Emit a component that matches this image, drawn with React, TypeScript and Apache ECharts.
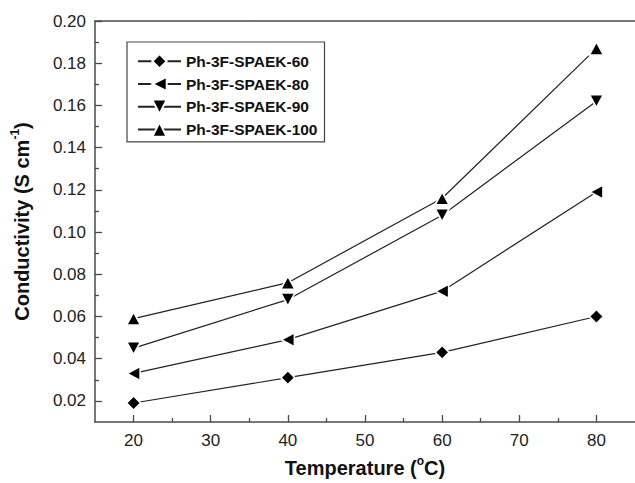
import React, { useEffect, useRef } from "react";
import * as echarts from "echarts";

const temps = [20, 40, 60, 80];
const s60 = [0.019, 0.031, 0.043, 0.06];
const s80 = [0.033, 0.049, 0.072, 0.119];
const s90 = [0.045, 0.068, 0.108, 0.162];
const s100 = [0.059, 0.076, 0.116, 0.187];
const seriesNames = ["Ph-3F-SPAEK-60", "Ph-3F-SPAEK-80", "Ph-3F-SPAEK-90", "Ph-3F-SPAEK-100"];

const xMajorTicks = [20, 30, 40, 50, 60, 70, 80];
const xMinorTicks = [25, 35, 45, 55, 65, 75];
const yMajorTicks = [0.02, 0.04, 0.06, 0.08, 0.1, 0.12, 0.14, 0.16, 0.18, 0.2];
const yMinorTicks = [0.03, 0.05, 0.07, 0.09, 0.11, 0.13, 0.15, 0.17, 0.19];

const FONT = "'Liberation Sans', Arial, Helvetica, sans-serif";
const AXIS_COLOR = "#4a4a4a";

export default function App() {
  const ref = useRef<HTMLDivElement>(null);
  useEffect(() => {
    if (!ref.current) return;
    const chart = echarts.init(ref.current, null, { renderer: "svg" });
    const pairs = (ys: number[]) => temps.map((t, i) => [t, ys[i]]);
    const mk = (name: string, ys: number[], symbol: string, size: any, rotate: number) => ({
      name,
      type: "line",
      data: pairs(ys),
      symbol,
      symbolSize: size,
      symbolRotate: rotate,
      showAllSymbol: true,
      lineStyle: { color: "#222", width: 1.2 },
      itemStyle: { color: "#000", borderColor: "#fff", borderWidth: 1.6 },
      z: 3,
    });
    const xBase = { type: "value", min: 15, max: 85, interval: 5, gridIndex: 0 };
    const yBase = { type: "value", min: 0.01, max: 0.2, interval: 0.01, gridIndex: 0 };
    const supStyle = { fontFamily: FONT, fontSize: 12, fontWeight: "bold", verticalAlign: "top", lineHeight: 12, color: "#111" };
    const mainStyle = { fontFamily: FONT, fontWeight: "bold", fontSize: 20, lineHeight: 26, color: "#111" };
    chart.setOption({
      animation: false,
      backgroundColor: "#fff",
      textStyle: { fontFamily: FONT },
      grid: { left: 95, top: 21, width: 543, height: 403 },
      legend: {
        orient: "vertical",
        left: 127,
        top: 42,
        data: seriesNames,
        itemWidth: 43,
        itemHeight: 18,
        itemGap: 6.4,
        padding: [11, 7, 4, 10],
        borderColor: "#444",
        borderWidth: 1.2,
        textStyle: { fontFamily: FONT, fontWeight: "bold", fontSize: 15.5, color: "#111" },
      },
      xAxis: [
        {
          ...xBase,
          position: "bottom",
          name: "{m|Temperature (}{sup|o}{m|C)}",
          nameLocation: "middle",
          nameGap: 33,
          nameTextStyle: {
            fontFamily: FONT,
            fontWeight: "bold",
            fontSize: 20,
            color: "#111",
            rich: { m: mainStyle, sup: supStyle },
          },
          axisLine: { show: true, lineStyle: { color: AXIS_COLOR, width: 1.5 } },
          axisTick: { show: true, inside: true, length: 7, customValues: xMajorTicks, lineStyle: { color: AXIS_COLOR, width: 1.3 } },
          axisLabel: { show: true, customValues: xMajorTicks, fontSize: 17, color: "#222", margin: 10, fontFamily: FONT },
          splitLine: { show: false },
        },
        {
          ...xBase,
          position: "bottom",
          axisLine: { show: false },
          axisTick: { show: true, inside: true, length: 4, customValues: xMinorTicks, lineStyle: { color: AXIS_COLOR, width: 1.3 } },
          axisLabel: { show: false },
          splitLine: { show: false },
        },
        {
          ...xBase,
          position: "top",
          axisLine: { show: true, lineStyle: { color: AXIS_COLOR, width: 1.5 } },
          axisTick: { show: false },
          axisLabel: { show: false },
          splitLine: { show: false },
        },
      ],
      yAxis: [
        {
          ...yBase,
          position: "left",
          name: "{m|Conductivity (S cm}{sup|-1}{m|)}",
          nameLocation: "middle",
          nameRotate: 90,
          nameGap: 60,
          nameTextStyle: {
            fontFamily: FONT,
            fontWeight: "bold",
            fontSize: 20,
            color: "#111",
            rich: { m: mainStyle, sup: supStyle },
          },
          axisLine: { show: true, lineStyle: { color: AXIS_COLOR, width: 1.5 } },
          axisTick: { show: true, inside: true, length: 7, customValues: yMajorTicks, lineStyle: { color: AXIS_COLOR, width: 1.3 } },
          axisLabel: {
            show: true,
            customValues: yMajorTicks,
            fontSize: 17,
            color: "#222",
            margin: 9,
            fontFamily: FONT,
            formatter: (v: number) => v.toFixed(2),
          },
          splitLine: { show: false },
        },
        {
          ...yBase,
          position: "left",
          axisLine: { show: false },
          axisTick: { show: true, inside: true, length: 4, customValues: yMinorTicks, lineStyle: { color: AXIS_COLOR, width: 1.3 } },
          axisLabel: { show: false },
          splitLine: { show: false },
        },
      ],
      series: [
        mk(seriesNames[0], s60, "diamond", [14, 14], 0),
        mk(seriesNames[1], s80, "triangle", [14, 13], 90),
        mk(seriesNames[2], s90, "triangle", [14, 13], 180),
        mk(seriesNames[3], s100, "triangle", [14, 13], 0),
      ],
    });
    return () => chart.dispose();
  }, []);
  return (
    <div
      ref={ref}
      style={{ position: "absolute", left: 0, top: 0, width: 635, height: 483, background: "#fff" }}
    />
  );
}
